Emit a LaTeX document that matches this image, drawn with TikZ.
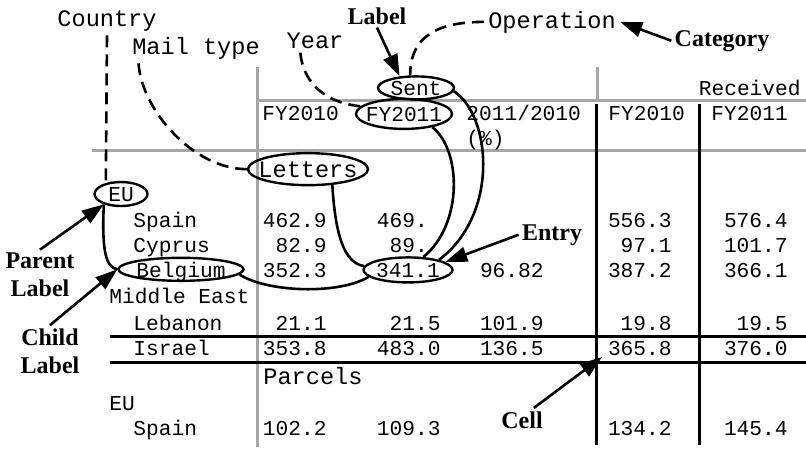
\documentclass[tikz,border=0pt]{standalone}
\usepackage{fontspec}
\setmainfont{Liberation Serif}
\newfontfamily\cellmono{Liberation Mono}
\usetikzlibrary{arrows.meta,shapes.geometric}

\tikzset{
  cellfont/.style={font=\cellmono\fontsize{10.6}{12}\selectfont},
  dimfont/.style={font=\cellmono\fontsize{11.8}{14}\selectfont},
  num/.style={cellfont, anchor=base east, inner sep=0pt},
  txt/.style={cellfont, anchor=base west, inner sep=0pt},
  dim/.style={dimfont, anchor=base, inner sep=2pt},
  note/.style={font=\bfseries\fontsize{12}{14}\selectfont, align=center, inner sep=1.5pt},
  oval/.style={draw, ellipse, anchor=base, inner sep=0pt, text depth=0pt, line width=1.2pt},
  link/.style={line width=1.3pt},
  dimlink/.style={line width=1.3pt, dash pattern=on 6pt off 3.5pt},
  pointer/.style={line width=1.3pt, -{Triangle[length=11pt,width=7.5pt]}},
  rule/.style={line width=1.5pt},
  grayrule/.style={line width=1.5pt, gray!70}
}
% text inside an oval takes no width of its own
\newcommand\inoval[1]{\makebox[0pt]{#1}}

\begin{document}
\begin{tikzpicture}[x=0.5pt, y=-0.5pt]
  \useasboundingbox (0,0) rectangle (806,450);

  % Grid (gray)
  \draw[grayrule] (257,67) -- (257,447);
  \draw[grayrule] (597,67) -- (597,100);
  \draw[grayrule] (257,100) -- (806,100);
  \draw[grayrule] (92,150) -- (806,150);

  % Grid (black)
  \draw[rule] (596,104) -- (596,445);
  \draw[rule] (699,104) -- (699,445);
  \draw[rule] (110,336) -- (806,336);
  \draw[rule] (110,362) -- (806,362);

  % Column heads
  \node[oval, cellfont, minimum width=38pt, minimum height=11.5pt] (sent) at (416,95) {\inoval{Sent}};
  \node[txt, anchor=base east] (received) at (801,95) {Received};
  \node[txt] (head1) at (262,120) {FY2010};
  \node[oval, cellfont, minimum width=48pt, minimum height=15pt] (fy) at (404,121) {\inoval{FY2011}};
  \node[txt] (head3) at (466,120) {2011/2010};
  \node[txt] (head3b) at (466,145) {(\%)};
  \node[txt] (head4) at (608,120) {FY2010};
  \node[txt] (head5) at (711,120) {FY2011};

  % Letters
  \node[oval, dimfont, minimum width=60pt, minimum height=16pt] (letters) at (308,177) {\inoval{Letters}};
  \node[oval, cellfont, minimum width=26.5pt, minimum height=12pt] (eu) at (121,201) {\inoval{EU}};

  \node[txt] (spain) at (133,227) {Spain};
  \node[num] (spain1) at (327,227) {462.9};
  \node[num] (spain2) at (441,227) {469.\phantom{0}};
  \node[num] (spain4) at (672,227) {556.3};
  \node[num] (spain5) at (788,227) {576.4};

  \node[txt] (cyprus) at (133,252) {Cyprus};
  \node[num] (cyprus1) at (327,252) {82.9};
  \node[num] (cyprus2) at (441,252) {89.\phantom{0}};
  \node[num] (cyprus4) at (672,252) {97.1};
  \node[num] (cyprus5) at (788,252) {101.7};

  \node[oval, cellfont, minimum width=62.5pt, minimum height=11.5pt] (belgium) at (181,277) {\inoval{Belgium}};
  \node[num] (belgium1) at (327,277) {352.3};
  \node[oval, cellfont, minimum width=44.5pt, minimum height=12.5pt] (val) at (408,277) {\inoval{341.1}};
  \node[num] (belgium3) at (544,277) {96.82};
  \node[num] (belgium4) at (672,277) {387.2};
  \node[num] (belgium5) at (788,277) {366.1};

  \node[txt] (mideast) at (109,303) {Middle East};

  \node[txt] (lebanon) at (133,330) {Lebanon};
  \node[num] (lebanon1) at (327,330) {21.1};
  \node[num] (lebanon2) at (441,330) {21.5};
  \node[num] (lebanon3) at (544,330) {101.9};
  \node[num] (lebanon4) at (672,330) {19.8};
  \node[num] (lebanon5) at (788,330) {19.5};

  \node[txt] (israel) at (133,355) {Israel};
  \node[num] (israel1) at (327,355) {353.8};
  \node[num] (israel2) at (441,355) {483.0};
  \node[num] (israel3) at (544,355) {136.5};
  \node[num] (israel4) at (672,355) {365.8};
  \node[num] (israel5) at (788,355) {376.0};

  % Parcels
  \node[dimfont, anchor=base west, inner sep=0pt] (parcels) at (263,384) {Parcels};
  \node[txt] (eu2) at (109,410) {EU};
  \node[txt] (spainp) at (133,435) {Spain};
  \node[num] (spainp1) at (327,435) {102.2};
  \node[num] (spainp2) at (441,435) {109.3};
  \node[num] (spainp4) at (672,435) {134.2};
  \node[num] (spainp5) at (788,435) {145.4};

  % Dimension names
  \node[dim] (country) at (107,26) {Country};
  \node[dim] (mailtype) at (196,54) {Mail type};
  \node[dim] (year) at (315,48) {Year};
  \node[dim] (operation) at (552,28) {Operation};

  % Notes
  \node[note, anchor=base] (label) at (377,24) {Label};
  \node[note, anchor=base] (category) at (722,46) {Category};
  \node[note, anchor=base] (entry) at (552,240) {Entry};
  \node[note] (parent) at (40,275) {Parent\\Label};
  \node[note] (child) at (50,351) {Child\\Label};
  \node[note, anchor=base] (cell) at (522,428) {Cell};
  \coordinate (cellcorner) at (602,357);

  % Dimensions to labels
  \draw[dimlink] (country.south) -- (eu.144);
  \draw[dimlink] (mailtype.195) .. controls +(3,47) and +(-53,0) .. (letters.west);
  \draw[dimlink] (year.220) .. controls +(3,33) and +(-32,-3) .. (fy.170);
  \draw[dimlink] (operation.west) .. controls +(-45,0) and +(0,-40) .. (sent.115);

  % Labels to the entry
  \draw[link] (eu.211) .. controls +(-2,45) and +(-12,-2) .. (belgium.west);
  \draw[link] (belgium.-5) .. controls +(28,18) and +(-30,18) .. (val.190);
  \draw[link] (letters.-33) .. controls +(3,50) and +(-20,-3) .. (val.175);
  \draw[link] (fy.-25) .. controls +(29,23) and +(40,-33) .. (val.40);
  \draw[link] (sent.-5) .. controls +(37,24) and +(61,-46) .. (val.18);

  % Pointers
  \draw[pointer] (label.south) -- (sent.145);
  \draw[pointer] (category.west) -- (operation.east);
  \draw[pointer] (entry.west) -- (val.12);
  \draw[pointer] (parent.north) -- (eu.211);
  \draw[pointer] (child.north) -- (belgium.west);
  \draw[pointer] (cell.45) -- (cellcorner);

\end{tikzpicture}
\end{document}
